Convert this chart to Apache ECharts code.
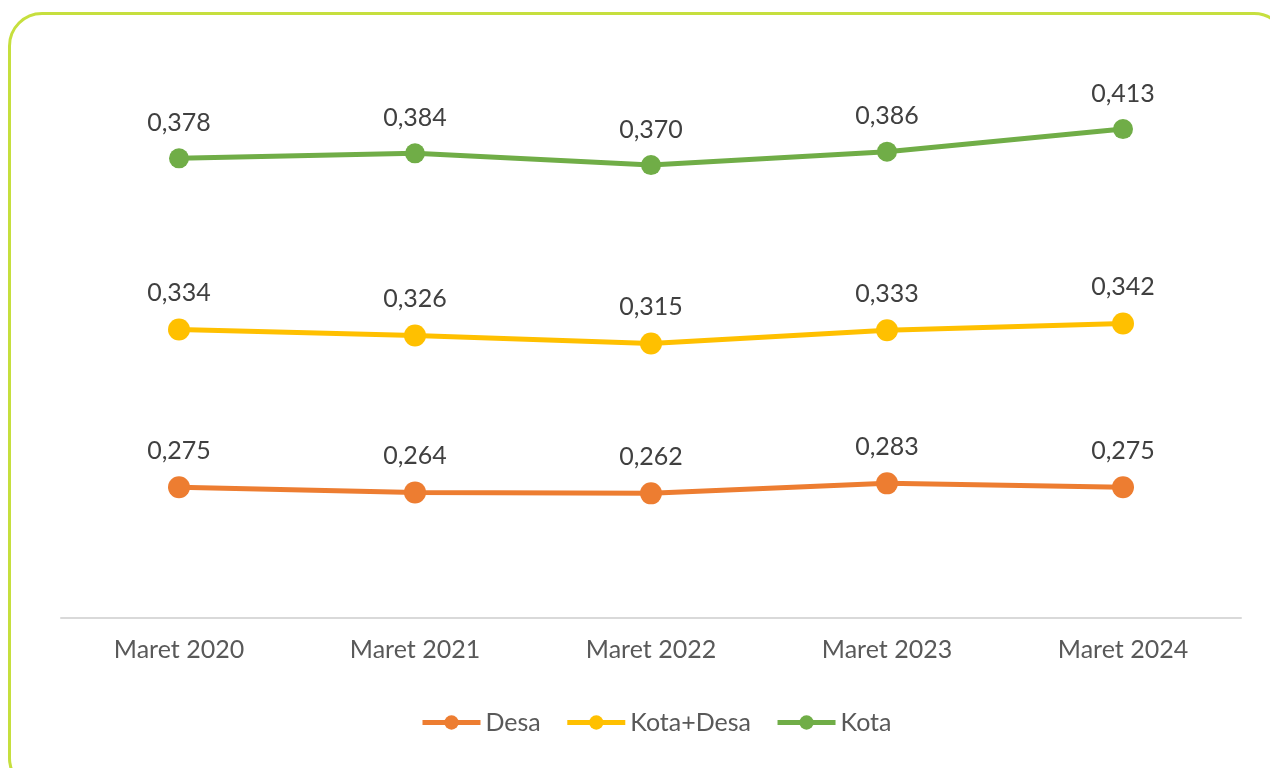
<!DOCTYPE html>
<html>
<head>
    <meta charset="utf-8">
    <script src="https://cdn.jsdelivr.net/npm/echarts@6/dist/echarts.min.js"></script>
    <style>
        body { margin: 0; background: #fff; }
        #frame { position: absolute; left: 8px; top: 12px; width: 1280px; height: 780px;
                 border: 3px solid #c6df3e; border-radius: 34px; box-sizing: border-box; }
        #chart { position: absolute; left: 0; top: 0; width: 1270px; height: 768px; }
    </style>
</head>
<body>
    <div id="frame"></div>
    <div id="chart"></div>
    <script type="text/javascript">
        var categories = ['Maret 2020', 'Maret 2021', 'Maret 2022', 'Maret 2023', 'Maret 2024'];
        var desa = [0.275, 0.264, 0.262, 0.283, 0.275];
        var kotaDesa = [0.334, 0.326, 0.315, 0.333, 0.342];
        var kota = [0.378, 0.384, 0.370, 0.386, 0.413];

        var myChart = echarts.init(document.getElementById('chart'));

        function fmt(p) {
            return p.value.toFixed(3).replace('.', ',');
        }

        function makeSeries(name, data, color, axis, size) {
            return {
                name: name,
                type: 'line',
                yAxisIndex: axis,
                data: data,
                symbol: 'circle',
                symbolSize: size,
                lineStyle: { color: color, width: 5 },
                itemStyle: { color: color },
                label: {
                    show: true,
                    position: 'top',
                    distance: 13,
                    color: '#404040',
                    fontFamily: 'Lato',
                    fontSize: 25,
                    formatter: fmt
                },
                animation: false
            };
        }

        var hiddenAxis = {
            type: 'value',
            show: false,
            splitLine: { show: false }
        };

        option = {
            grid: { left: 61, right: 29, top: 78, bottom: 150 },
            legend: {
                bottom: 33,
                left: 420,
                padding: 0,
                itemWidth: 58,
                itemHeight: 18,
                itemGap: 24,
                lineStyle: { width: 5 },
                textStyle: { color: '#595959', fontFamily: 'Lato', fontSize: 25, padding: [0, 0, 0, 0] },
                data: ['Desa', 'Kota+Desa', 'Kota']
            },
            xAxis: {
                type: 'category',
                data: categories,
                boundaryGap: true,
                axisLine: { lineStyle: { color: '#d9d9d9', width: 2 } },
                axisTick: { show: false },
                axisLabel: { color: '#595959', fontFamily: 'Lato', fontSize: 25, margin: 19 }
            },
            yAxis: [
                Object.assign({ min: 0, max: 1.135 }, hiddenAxis),
                Object.assign({ min: -0.056, max: 0.674 }, hiddenAxis),
                Object.assign({ min: -0.171, max: 0.474 }, hiddenAxis)
            ],
            series: [
                makeSeries('Desa', desa, '#ed7d31', 0, 22),
                makeSeries('Kota+Desa', kotaDesa, '#ffc000', 1, 22),
                makeSeries('Kota', kota, '#70ad47', 2, 20)
            ]
        };
        myChart.setOption(option);
    </script>
</body>
</html>
